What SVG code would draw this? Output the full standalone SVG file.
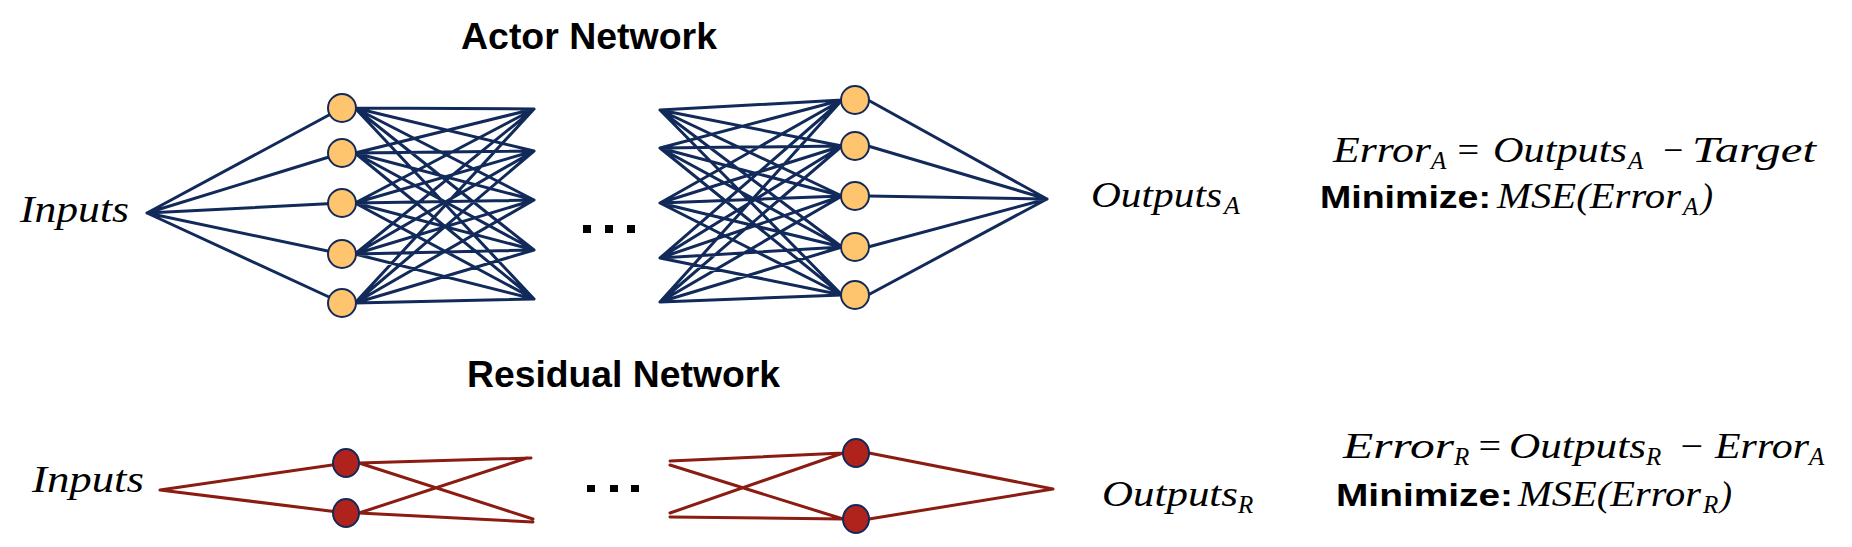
<svg xmlns="http://www.w3.org/2000/svg" width="1852" height="547" viewBox="0 0 1852 547">
<style>
.a{stroke:#112a5a;stroke-width:3;fill:none;stroke-linecap:round}
.r{stroke:#8a1c12;stroke-width:3;fill:none;stroke-linecap:round}
.on{fill:#fec46e;stroke:#13295a;stroke-width:2}
.rn{fill:#b0231c;stroke:#13295a;stroke-width:2}
.m{font-family:"Liberation Serif",serif;font-style:italic;fill:#000}
.b{font-family:"Liberation Sans",Arial,sans-serif;font-weight:bold;fill:#000}
</style>
<rect width="1852" height="547" fill="#fff"/>
<g id="connectors">
<path class="a" d="M147 213L342 108M147 213L342 153M147 213L342 203M147 213L342 254M147 213L342 303"/>
<path class="a" d="M355 108L534 109M355 108L534 151M355 108L534 200M355 108L534 250M355 108L534 299
M355 153L534 109M355 153L534 151M355 153L534 200M355 153L534 250M355 153L534 299
M355 203L534 109M355 203L534 151M355 203L534 200M355 203L534 250M355 203L534 299
M355 254L534 109M355 254L534 151M355 254L534 200M355 254L534 250M355 254L534 299
M355 303L534 109M355 303L534 151M355 303L534 200M355 303L534 250M355 303L534 299"/>
<path class="a" d="M660 110L842 100M660 110L842 146M660 110L842 196M660 110L842 247M660 110L842 295
M660 148L842 100M660 148L842 146M660 148L842 196M660 148L842 247M660 148L842 295
M660 203L842 100M660 203L842 146M660 203L842 196M660 203L842 247M660 203L842 295
M660 258L842 100M660 258L842 146M660 258L842 196M660 258L842 247M660 258L842 295
M660 302L842 100M660 302L842 146M660 302L842 196M660 302L842 247M660 302L842 295"/>
<path class="a" d="M868 100L1047 199M868 146L1047 199M868 196L1047 199M868 247L1047 199M868 295L1047 199"/>
<path class="r" d="M160 490L346 463M160 490L346 513M359 463L531 458M359 463L533 519M359 513L527 458M359 513L533 522"/>
<path class="r" d="M670 461L843 453M670 465L843 519M670 513L843 453M670 517L843 519M869 453L1053 489M869 519L1053 489"/>
</g>
<g id="actor-l1">
<circle class="on" cx="342" cy="108" r="14"/><circle class="on" cx="342" cy="153" r="14"/><circle class="on" cx="342" cy="203" r="14"/><circle class="on" cx="342" cy="254" r="14"/><circle class="on" cx="342" cy="303" r="14"/>
</g>
<g id="actor-l4">
<circle class="on" cx="855" cy="100" r="14"/><circle class="on" cx="855" cy="146" r="14"/><circle class="on" cx="855" cy="196" r="14"/><circle class="on" cx="855" cy="247" r="14"/><circle class="on" cx="855" cy="295" r="14"/>
</g>
<g id="res-l1"><ellipse class="rn" cx="346" cy="463" rx="13" ry="14"/><ellipse class="rn" cx="346" cy="513" rx="13" ry="14"/></g>
<g id="res-l4"><ellipse class="rn" cx="856" cy="453" rx="13" ry="14"/><ellipse class="rn" cx="856" cy="519" rx="13" ry="14"/></g>
<g id="dots" fill="#000">
<rect x="583" y="225" width="8" height="8"/><rect x="605" y="225" width="8" height="8"/><rect x="627" y="225" width="8" height="8"/>
<rect x="587" y="485" width="8" height="7"/><rect x="610" y="485" width="8" height="7"/><rect x="631" y="485" width="8" height="7"/>
</g>
<g id="titles">
<text class="b" x="461" y="49" font-size="36" textLength="256" lengthAdjust="spacingAndGlyphs">Actor Network</text>
<text class="b" x="467" y="387" font-size="36" textLength="313" lengthAdjust="spacingAndGlyphs">Residual Network</text>
</g>
<g id="inputs-a"><text class="m" x="20" y="222" font-size="38" textLength="109" lengthAdjust="spacingAndGlyphs">Inputs</text></g>
<g id="outputs-a"><text class="m" x="1091" y="207" font-size="36" textLength="131" lengthAdjust="spacingAndGlyphs">Outputs</text><text class="m" x="1224" y="214" font-size="26">A</text></g>
<g id="eq-a">
<text class="m" x="1333" y="162" font-size="36" textLength="98" lengthAdjust="spacingAndGlyphs">Error</text>
<text class="m" x="1431" y="169" font-size="25">A</text>
<text class="m" x="1455" y="162" font-size="36" font-style="normal" textLength="26" lengthAdjust="spacingAndGlyphs">=</text>
<text class="m" x="1493" y="162" font-size="36" textLength="134" lengthAdjust="spacingAndGlyphs">Outputs</text>
<text class="m" x="1628" y="169" font-size="25">A</text>
<text class="m" x="1661" y="162" font-size="36" font-style="normal" textLength="24" lengthAdjust="spacingAndGlyphs">−</text>
<text class="m" x="1692" y="162" font-size="36" textLength="124" lengthAdjust="spacingAndGlyphs">Target</text>
<text class="b" x="1320" y="208" font-size="32" textLength="171" lengthAdjust="spacingAndGlyphs">Minimize:</text>
<text class="m" x="1497" y="208" font-size="36" textLength="184" lengthAdjust="spacingAndGlyphs">MSE(Error</text>
<text class="m" x="1683" y="215" font-size="25">A</text>
<text class="m" x="1701" y="208" font-size="36">)</text>
</g>
<g id="inputs-r"><text class="m" x="32" y="492" font-size="38" textLength="112" lengthAdjust="spacingAndGlyphs">Inputs</text></g>
<g id="outputs-r"><text class="m" x="1102" y="506" font-size="36" textLength="136" lengthAdjust="spacingAndGlyphs">Outputs</text><text class="m" x="1238" y="513" font-size="25">R</text></g>
<g id="eq-r">
<text class="m" x="1343" y="458" font-size="36" textLength="111" lengthAdjust="spacingAndGlyphs">Error</text>
<text class="m" x="1454" y="465" font-size="25">R</text>
<text class="m" x="1476" y="458" font-size="36" font-style="normal" textLength="27" lengthAdjust="spacingAndGlyphs">=</text>
<text class="m" x="1509" y="458" font-size="36" textLength="137" lengthAdjust="spacingAndGlyphs">Outputs</text>
<text class="m" x="1646" y="465" font-size="25">R</text>
<text class="m" x="1678" y="458" font-size="36" font-style="normal" textLength="27" lengthAdjust="spacingAndGlyphs">−</text>
<text class="m" x="1715" y="458" font-size="36" textLength="94" lengthAdjust="spacingAndGlyphs">Error</text>
<text class="m" x="1809" y="465" font-size="25">A</text>
<text class="b" x="1336" y="506" font-size="32" textLength="177" lengthAdjust="spacingAndGlyphs">Minimize:</text>
<text class="m" x="1518" y="506" font-size="36" textLength="183" lengthAdjust="spacingAndGlyphs">MSE(Error</text>
<text class="m" x="1703" y="513" font-size="25">R</text>
<text class="m" x="1720" y="506" font-size="36">)</text>
</g>
</svg>
